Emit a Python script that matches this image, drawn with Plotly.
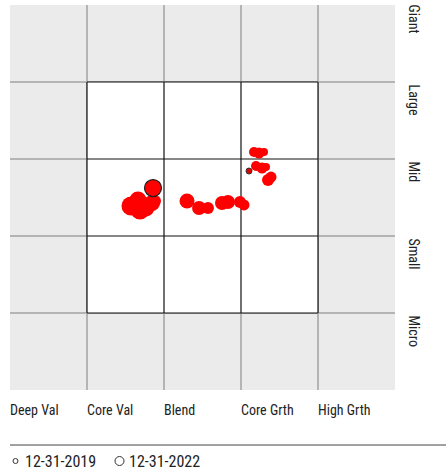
import plotly.graph_objects as go

# Style box categories
style_labels = ["Deep Val", "Core Val", "Blend", "Core Grth", "High Grth"]
size_labels = ["Giant", "Large", "Mid", "Small", "Micro"]

# Historical centroid trail (style score x, size score y, marker size)
trail_x = [3.195, 3.273, 3.325, 3.169, 3.234, 3.299, 3.390, 3.351, 3.039, 2.987,
           2.831, 2.753, 2.571, 2.455, 2.299, 1.883, 1.844, 1.766, 1.688, 1.662, 1.571]
trail_y = [2.909, 2.883, 2.896, 3.091, 3.078, 3.091, 2.766, 2.727, 2.403, 2.442,
           2.442, 2.429, 2.364, 2.364, 2.455, 2.455, 2.429, 2.364, 2.338, 2.468, 2.390]
trail_s = [10, 11, 8, 10, 11, 8, 11, 12, 11, 12,
           14, 14, 12, 14, 15, 12, 16, 17, 19, 17, 19]

# Start / end points
start_label = "12-31-2019"
start_x = [3.104]
start_y = [2.844]
end_label = "12-31-2022"
end_x = [1.857]
end_y = [2.623]

FONT = "Liberation Sans Narrow, Roboto Condensed, Arial Narrow, Roboto, sans-serif"
TXT = "#222222"

fig = go.Figure()
fig.add_trace(go.Scatter(x=trail_x, y=trail_y, mode="markers",
                         marker=dict(color="#ff0000", size=trail_s, opacity=1, line=dict(width=0)),
                         hoverinfo="skip", showlegend=False))
fig.add_trace(go.Scatter(x=start_x, y=start_y, mode="markers",
                         marker=dict(color="#e00000", size=6, opacity=1, line=dict(width=1, color="#333333")),
                         hoverinfo="skip", showlegend=False))
fig.add_trace(go.Scatter(x=end_x, y=end_y, mode="markers",
                         marker=dict(color="#ff0000", size=17, opacity=1, line=dict(width=1.2, color="#222222")),
                         hoverinfo="skip", showlegend=False))

shapes = []
# outer grey grid lines
for k in range(1, 5):
    shapes.append(dict(type="line", xref="x", yref="y", x0=k, x1=k, y0=0, y1=5,
                       line=dict(color="#b4b4b4", width=2), layer="below"))
    shapes.append(dict(type="line", xref="x", yref="y", x0=0, x1=5, y0=k, y1=k,
                       line=dict(color="#b4b4b4", width=2), layer="below"))
# inner white box
shapes.append(dict(type="rect", xref="x", yref="y", x0=1, x1=4, y0=1, y1=4,
                   fillcolor="white", line=dict(width=0), layer="below"))
for k in range(1, 5):
    shapes.append(dict(type="line", xref="x", yref="y", x0=k, x1=k, y0=1, y1=4,
                       line=dict(color="#111111", width=1.2), layer="below"))
    shapes.append(dict(type="line", xref="x", yref="y", x0=1, x1=4, y0=k, y1=k,
                       line=dict(color="#111111", width=1.2), layer="below"))

# legend separator line
shapes.append(dict(type="line", xref="paper", yref="paper", x0=0, x1=1.14,
                   y0=-0.1429, y1=-0.1429, line=dict(color="#444444", width=1)))
# legend markers
shapes.append(dict(type="circle", xref="paper", yref="paper", xsizemode="pixel", ysizemode="pixel",
                   xanchor=(15.5 - 10) / 385, yanchor=(390 - 461) / 385,
                   x0=-2.5, x1=2.5, y0=-2.5, y1=2.5,
                   fillcolor="white", line=dict(color="#333333", width=1)))
shapes.append(dict(type="circle", xref="paper", yref="paper", xsizemode="pixel", ysizemode="pixel",
                   xanchor=(119.5 - 10) / 385, yanchor=(390 - 461) / 385,
                   x0=-4.5, x1=4.5, y0=-4.5, y1=4.5,
                   fillcolor="white", line=dict(color="#333333", width=1)))

annotations = []
for i, lab in enumerate(style_labels):
    annotations.append(dict(text=lab, xref="x", yref="paper", x=i, y=(390 - 410) / 385,
                            xanchor="left", yanchor="middle", showarrow=False, xshift=-2,
                            font=dict(family=FONT, size=14, color=TXT)))
for i, lab in enumerate(size_labels):
    annotations.append(dict(text=lab, xref="paper", yref="y", x=(414 - 10) / 385, y=5 - i,
                            xanchor="center", yanchor="top", textangle=90, showarrow=False,
                            yshift=2 if i == 0 else -1,
                            font=dict(family=FONT, size=14, color=TXT)))
annotations.append(dict(text=start_label, xref="paper", yref="paper", x=(23 - 10) / 385,
                        y=(390 - 461) / 385, xanchor="left", yanchor="middle", showarrow=False,
                        font=dict(family=FONT, size=16, color=TXT)))
annotations.append(dict(text=end_label, xref="paper", yref="paper", x=(127 - 10) / 385,
                        y=(390 - 461) / 385, xanchor="left", yanchor="middle", showarrow=False,
                        font=dict(family=FONT, size=16, color=TXT)))

fig.update_layout(
    width=446, height=472,
    margin=dict(l=10, r=51, t=5, b=82),
    paper_bgcolor="white", plot_bgcolor="#ebebeb",
    xaxis=dict(range=[0, 5], showgrid=False, zeroline=False, showticklabels=False,
               ticks="", fixedrange=True, showline=False),
    yaxis=dict(range=[0, 5], showgrid=False, zeroline=False, showticklabels=False,
               ticks="", fixedrange=True, showline=False),
    shapes=shapes, annotations=annotations, showlegend=False,
)

fig.write_html("out.html", config={"displayModeBar": False},
               post_script="document.body.style.margin='0';document.body.style.overflow='hidden';")
